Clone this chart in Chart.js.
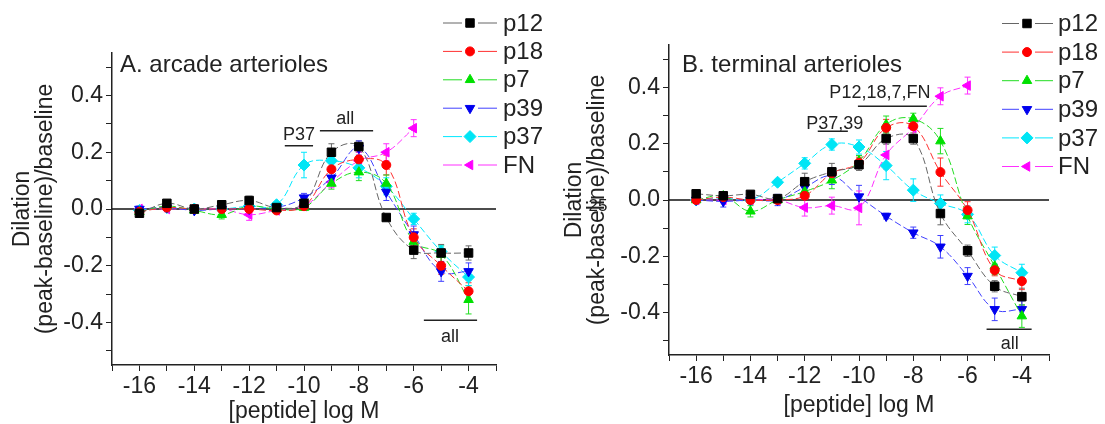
<!DOCTYPE html>
<html>
<head>
<meta charset="utf-8">
<script src="https://cdn.jsdelivr.net/npm/chart.js@4.4.1/dist/chart.umd.min.js"></script>
<style>
  body { margin: 0; background: #fff; }
  .panel { position: absolute; top: 0; height: 424px; }
</style>
</head>
<body>
<div class="panel" style="left:0"><canvas id="chart-a" width="552" height="424"></canvas></div>
<div class="panel" style="left:552px"><canvas id="chart-b" width="553" height="424"></canvas></div>
<script>
// peptide concentration, log M
const doses = [-16, -15, -14, -13, -12, -11, -10, -9, -8, -7, -6, -5, -4];
const seriesNames = ['p12', 'p18', 'p7', 'p39', 'p37', 'FN'];
const xTickValues = [-17, -16, -15, -14, -13, -12, -11, -10, -9, -8, -7, -6, -5, -4, -3];
const xTickLabels = [-16, -14, -12, -10, -8, -6, -4];
const yTickValues = [-0.5, -0.4, -0.3, -0.2, -0.1, 0, 0.1, 0.2, 0.3, 0.4, 0.5];
const yTickLabels = [-0.4, -0.2, 0, 0.2, 0.4];

// A. arcade arterioles
const arcadeP12 = [-0.015, 0.02, 0.0, 0.015, 0.03, 0.005, 0.02, 0.20, 0.22, -0.03, -0.145, -0.155, -0.155];
const arcadeP18 = [-0.01, 0.005, 0.0, 0.0, 0.0, -0.005, 0.01, 0.14, 0.175, 0.155, -0.10, -0.20, -0.29];
const arcadeP7 = [-0.01, 0.01, -0.005, -0.02, 0.01, 0.0, 0.005, 0.09, 0.13, 0.09, -0.115, -0.16, -0.32];
const arcadeP39 = [0.0, 0.005, -0.005, 0.0, 0.0, 0.005, 0.04, 0.11, 0.215, 0.06, -0.09, -0.22, -0.22];
const arcadeP37 = [-0.005, 0.005, 0.0, 0.0, 0.01, 0.015, 0.155, 0.17, 0.145, 0.08, -0.035, -0.15, -0.24];
const arcadeFN = [0.0, 0.0, 0.0, 0.0, -0.02, -0.005, 0.01, 0.095, 0.17, 0.20, 0.285, null, null];

const arcadeErrP12 = [0.01, 0.01, 0.01, 0.01, 0.015, 0.01, 0.015, 0.03, 0.02, 0.01, 0.03, 0.03, 0.025];
const arcadeErrP18 = [0.01, 0.01, 0.01, 0.01, 0.01, 0.01, 0.01, 0.03, 0.03, 0.035, 0.03, 0.03, 0.03];
const arcadeErrP7 = [0.01, 0.01, 0.01, 0.015, 0.01, 0.01, 0.01, 0.02, 0.03, 0.03, 0.03, 0.03, 0.05];
const arcadeErrP39 = [0.01, 0.01, 0.01, 0.01, 0.01, 0.01, 0.015, 0.02, 0.025, 0.03, 0.03, 0.035, 0.03];
const arcadeErrP37 = [0.01, 0.01, 0.01, 0.01, 0.01, 0.01, 0.045, 0.03, 0.035, 0.03, 0.02, 0.02, 0.03];
const arcadeErrFN = [0.01, 0.01, 0.01, 0.01, 0.02, 0.01, 0.01, 0.02, 0.03, 0.03, 0.03, 0, 0];

// B. terminal arterioles
const terminalP12 = [0.022, 0.015, 0.02, 0.005, 0.065, 0.10, 0.125, 0.218, 0.218, -0.048, -0.18, -0.306, -0.343];
const terminalP18 = [0.0, 0.01, 0.0, 0.0, 0.015, 0.095, 0.132, 0.256, 0.262, 0.099, -0.036, -0.249, -0.288];
const terminalP7 = [0.0, 0.014, -0.04, 0.0, 0.03, 0.07, 0.138, 0.268, 0.288, 0.209, -0.057, -0.235, -0.412];
const terminalP39 = [0.0, -0.005, 0.0, 0.0, 0.045, 0.085, 0.012, -0.057, -0.116, -0.166, -0.27, -0.388, -0.388];
const terminalP37 = [0.0, 0.008, 0.0, 0.063, 0.13, 0.197, 0.188, 0.122, 0.035, -0.012, -0.051, -0.197, -0.258];
const terminalFN = [0.0, 0.0, 0.0, 0.0, -0.027, -0.02, -0.028, 0.16, 0.256, 0.368, 0.406, null, null];

const terminalErrP12 = [0.01, 0.01, 0.01, 0.01, 0.03, 0.03, 0.02, 0.02, 0.02, 0.04, 0.02, 0.02, 0.03];
const terminalErrP18 = [0.01, 0.01, 0.01, 0.01, 0.01, 0.02, 0.02, 0.03, 0.03, 0.05, 0.03, 0.02, 0.03];
const terminalErrP7 = [0.01, 0.01, 0.02, 0.01, 0.02, 0.03, 0.02, 0.03, 0.02, 0.045, 0.03, 0.03, 0.04];
const terminalErrP39 = [0.01, 0.02, 0.01, 0.02, 0.02, 0.03, 0.04, 0.01, 0.02, 0.04, 0.03, 0.04, 0.03];
const terminalErrP37 = [0.01, 0.01, 0.01, 0.01, 0.02, 0.02, 0.025, 0.05, 0.04, 0.03, 0.03, 0.03, 0.03];
const terminalErrFN = [0.01, 0.01, 0.01, 0.01, 0.03, 0.03, 0.06, 0.05, 0.03, 0.03, 0.03, 0, 0];

const FONT = '"Liberation Sans", Arial, sans-serif';
Chart.defaults.font.family = FONT;
Chart.defaults.color = '#222';

var seriesStyles = [
    { line: '#666666', fill: '#000000', shape: 'rect', rotation: 0, radius: 6 },
    { line: '#ff3030', fill: '#ff0000', shape: 'circle', rotation: 0, radius: 4.5 },
    { line: '#22dd22', fill: '#00e000', shape: 'triangle', rotation: 0, radius: 5.5 },
    { line: '#4040ff', fill: '#0000ee', shape: 'triangle', rotation: 180, radius: 5.5 },
    { line: '#00e8ff', fill: '#00e5f5', shape: 'rectRot', rotation: 0, radius: 6 },
    { line: '#ff30ff', fill: '#ff00ff', shape: 'triangle', rotation: -90, radius: 5.5 },
];

function isLabelled(list, v) {
    return list.some(t => Math.abs(t - v) < 1e-6);
}

function buildDatasets(seriesValues) {
    return seriesValues.map((values, s) => {
        const st = seriesStyles[s];
        return {
            label: seriesNames[s],
            data: doses.map((x, i) => ({ x: x, y: values[i] })).filter(p => p.y !== null),
            borderColor: st.line,
            backgroundColor: st.fill,
            pointBackgroundColor: st.fill,
            pointBorderColor: st.fill,
            pointBorderWidth: 1,
            pointStyle: st.shape,
            pointRotation: st.rotation,
            pointRadius: st.radius,
            borderWidth: 1,
            borderDash: [7, 3],
            tension: 0.4,
            fill: false
        };
    });
}

/**
 * Zero line, error bars, panel title, annotations and legend
 */
function makeDecor(cfg) {
    return {
        id: 'decor',
        beforeDatasetsDraw(chart) {
            const { ctx, chartArea } = chart;
            const xs = chart.scales.x, ys = chart.scales.y;
            ctx.save();
            ctx.strokeStyle = '#111';
            ctx.lineWidth = 1.5;
            const y0 = ys.getPixelForValue(0);
            ctx.beginPath();
            ctx.moveTo(chartArea.left, y0);
            ctx.lineTo(chartArea.right, y0);
            ctx.stroke();

            chart.data.datasets.forEach((ds, di) => {
                const errs = cfg.errors[di];
                ctx.strokeStyle = ds.borderColor;
                ctx.lineWidth = 1;
                ds.data.forEach((p, i) => {
                    const e = errs[i];
                    if (!e) return;
                    const px = xs.getPixelForValue(p.x);
                    const top = ys.getPixelForValue(p.y + e);
                    const bot = ys.getPixelForValue(p.y - e);
                    ctx.beginPath();
                    ctx.moveTo(px, top); ctx.lineTo(px, bot);
                    ctx.moveTo(px - 3, top); ctx.lineTo(px + 3, top);
                    ctx.moveTo(px - 3, bot); ctx.lineTo(px + 3, bot);
                    ctx.stroke();
                });
            });
            ctx.restore();
        },
        afterDraw(chart) {
            const { ctx } = chart;
            const xs = chart.scales.x, ys = chart.scales.y;
            ctx.save();
            ctx.fillStyle = '#222';
            ctx.strokeStyle = '#222';
            ctx.textBaseline = 'middle';

            // panel title
            ctx.font = '24px ' + FONT;
            ctx.textAlign = 'left';
            ctx.fillText(cfg.title.text, xs.getPixelForValue(cfg.title.x), ys.getPixelForValue(cfg.title.y));

            // annotation texts and bars
            ctx.font = '18px ' + FONT;
            ctx.textAlign = 'center';
            cfg.texts.forEach(t => {
                ctx.fillText(t.text, xs.getPixelForValue(t.x), ys.getPixelForValue(t.y));
            });
            ctx.lineWidth = 1.5;
            cfg.bars.forEach(b => {
                const yy = ys.getPixelForValue(b.y);
                ctx.beginPath();
                ctx.moveTo(xs.getPixelForValue(b.x1), yy);
                ctx.lineTo(xs.getPixelForValue(b.x2), yy);
                ctx.stroke();
            });

            // stray page mark
            if (cfg.mark) {
                ctx.font = '17px ' + FONT;
                ctx.fillText(cfg.mark.text, cfg.mark.px, cfg.mark.py);
            }

            // legend
            const lg = cfg.legend;
            chart.data.datasets.forEach((ds, i) => {
                const st = seriesStyles[i];
                const yy = lg.top + i * lg.step;
                ctx.strokeStyle = ds.borderColor;
                ctx.lineWidth = 1;
                ctx.beginPath();
                ctx.moveTo(lg.x0, yy); ctx.lineTo(lg.xm - 8, yy);
                ctx.moveTo(lg.xm + 8, yy); ctx.lineTo(lg.x1, yy);
                ctx.stroke();
                ctx.fillStyle = st.fill;
                ctx.strokeStyle = st.fill;
                Chart.helpers.drawPoint(ctx, { pointStyle: st.shape, rotation: st.rotation, radius: st.radius, borderWidth: 1 }, lg.xm, yy);
                ctx.fillStyle = '#222';
                ctx.font = '24px ' + FONT;
                ctx.textAlign = 'left';
                ctx.fillText(ds.label, lg.xt, yy + 1);
            });
            ctx.restore();
        }
    };
}

function makeChart(canvasId, seriesValues, layout, cfg) {
    const ctx = document.getElementById(canvasId);
    return new Chart(ctx, {
        type: 'line',
        data: { datasets: buildDatasets(seriesValues) },
        options: {
            responsive: false,
            animation: false,
            layout: { padding: { left: 0, top: layout.top, right: layout.right, bottom: 0 } },
            plugins: { legend: { display: false }, tooltip: { enabled: false } },
            scales: {
                x: {
                    type: 'linear',
                    min: -17,
                    max: -3,
                    afterBuildTicks: scale => { scale.ticks = xTickValues.map(v => ({ value: v })); },
                    afterFit: scale => { scale.height = layout.xHeight; },
                    border: { display: true, color: '#222', width: 1.5 },
                    grid: { display: true, drawOnChartArea: false, drawTicks: true, tickLength: 6, color: '#222' },
                    ticks: {
                        autoSkip: false,
                        maxRotation: 0,
                        padding: 2,
                        font: { size: 23 },
                        color: '#222',
                        callback: v => isLabelled(xTickLabels, v) ? String(Math.round(v)) : ''
                    },
                    title: {
                        display: true,
                        text: '[peptide] log M',
                        font: { size: 23, lineHeight: 1.0 },
                        color: '#222',
                        padding: { top: 0, bottom: layout.xTitlePad }
                    }
                },
                y: {
                    min: -0.55,
                    max: 0.55,
                    afterBuildTicks: scale => { scale.ticks = yTickValues.map(v => ({ value: v })); },
                    afterFit: scale => { scale.width = layout.yWidth; },
                    border: { display: true, color: '#222', width: 1.5 },
                    grid: { display: true, drawOnChartArea: false, drawTicks: true, tickLength: 6, color: '#222' },
                    ticks: {
                        autoSkip: false,
                        padding: 3,
                        font: { size: 23 },
                        color: '#222',
                        callback: v => isLabelled(yTickLabels, v) ? (Math.abs(v) < 1e-6 ? '0.0' : v.toFixed(1)) : ''
                    },
                    title: {
                        display: true,
                        text: ['Dilation', '(peak-baseline)/baseline'],
                        font: { size: 23, lineHeight: 1.0 },
                        color: '#222',
                        padding: { top: 11, bottom: 0 }
                    }
                }
            }
        },
        plugins: [makeDecor(cfg)]
    });
}

makeChart('chart-a',
    [arcadeP12, arcadeP18, arcadeP7, arcadeP39, arcadeP37, arcadeFN],
    { top: 53, right: 56, xHeight: 59, yWidth: 112, xTitlePad: 1 },
    {
        errors: [arcadeErrP12, arcadeErrP18, arcadeErrP7, arcadeErrP39, arcadeErrP37, arcadeErrFN],
        title: { text: 'A. arcade arterioles', x: -16.71, y: 0.505 },
        texts: [
            { text: 'P37', x: -10.18, y: 0.262 },
            { text: 'all', x: -8.5, y: 0.318 },
            { text: 'all', x: -4.68, y: -0.452 }
        ],
        bars: [
            { x1: -10.7, x2: -9.67, y: 0.223 },
            { x1: -9.42, x2: -7.48, y: 0.276 },
            { x1: -5.63, x2: -3.69, y: -0.392 }
        ],
        legend: { x0: 443, x1: 497, xm: 470, xt: 503, top: 23, step: 28.4 }
    });

makeChart('chart-b',
    [terminalP12, terminalP18, terminalP7, terminalP39, terminalP37, terminalFN],
    { top: 45, right: 56, xHeight: 69, yWidth: 117, xTitlePad: 7 },
    {
        errors: [terminalErrP12, terminalErrP18, terminalErrP7, terminalErrP39, terminalErrP37, terminalErrFN],
        title: { text: 'B. terminal arterioles', x: -16.52, y: 0.477 },
        texts: [
            { text: 'P12,18,7,FN', x: -9.23, y: 0.381 },
            { text: 'P37,39', x: -10.89, y: 0.268 },
            { text: 'all', x: -4.45, y: -0.51 }
        ],
        bars: [
            { x1: -10.04, x2: -7.5, y: 0.333 },
            { x1: -11.52, x2: -10.41, y: 0.244 },
            { x1: -5.3, x2: -3.64, y: -0.459 }
        ],
        mark: { text: '25', px: 46, py: 206 },
        legend: { x0: 450, x1: 501, xm: 475, xt: 506, top: 23.5, step: 28.6 }
    });
</script>
</body>
</html>
